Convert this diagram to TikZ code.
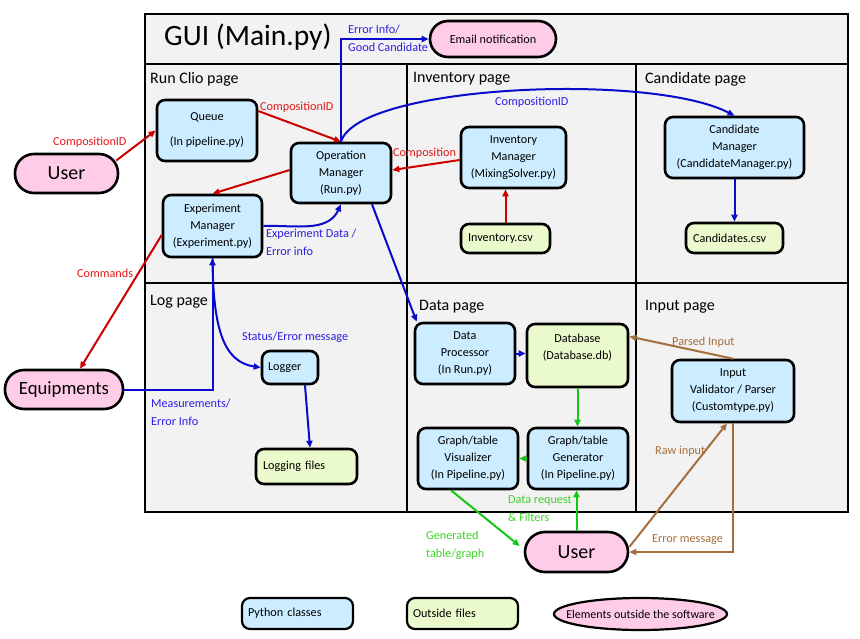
\documentclass[tikz,border=0pt]{standalone}
\usepackage{fontspec}
\setmainfont{Carlito}
\usetikzlibrary{calc,arrows.meta,shapes.geometric}

\definecolor{pyblue}{RGB}{204,236,255}
\definecolor{filegreen}{RGB}{235,250,205}
\definecolor{extpink}{RGB}{255,204,232}
\definecolor{panelgray}{RGB}{242,242,242}
\definecolor{lblue}{RGB}{10,10,205}
\definecolor{tblue}{RGB}{45,30,225}
\definecolor{lred}{RGB}{205,0,0}
\definecolor{tred}{RGB}{225,25,25}
\definecolor{lgreen}{RGB}{20,200,20}
\definecolor{tgreen}{RGB}{60,210,40}
\definecolor{lbrown}{RGB}{165,110,60}

\tikzset{
 base/.style={draw=black, line width=2.6pt, rounded corners=8pt, inner sep=2pt, align=center, font=\fontsize{12.2}{17}\selectfont},
 pyclass/.style={base, fill=pyblue},
 outfile/.style={base, fill=filegreen},
 extel/.style={base, fill=extpink, rounded corners=19pt},
 lab/.style={anchor=west, inner sep=0pt, font=\fontsize{12.2}{18}\selectfont, align=left},
 pagelab/.style={anchor=west, inner sep=0pt, font=\fontsize{16}{18}\selectfont},
 conn/.style={line width=2pt, -{Triangle[length=7pt,width=6pt]}},
}

\begin{document}
\begin{tikzpicture}[x=1pt,y=-1pt]
\useasboundingbox (0,0) rectangle (860,638);

% panels
\draw[line width=2.2pt, fill=panelgray] (145,14) rectangle (848,512);
\draw[line width=2pt] (145,64) -- (848,64);
\draw[line width=2pt] (145,283) -- (848,283);
\draw[line width=2pt] (407,64) -- (407,512);
\draw[line width=2pt] (636,64) -- (636,512);

\node[anchor=west, inner sep=0pt, font=\fontsize{29.5}{32}\selectfont] (title) at (164,37) {GUI (Main.py)};
\node[pagelab] (prun) at (150,79) {Run Clio page};
\node[pagelab] (pinv) at (413,79) {Inventory page};
\node[pagelab] (pcand) at (645,79) {Candidate page};
\node[pagelab] (plog) at (150,302) {Log page};
\node[pagelab] (pdata) at (419,307) {Data page};
\node[pagelab] (pinput) at (645,307) {Input page};

% nodes
\node[pyclass, minimum width=100pt, minimum height=61pt] (queue) at (207,130.5) {Queue\\[8pt](In pipeline.py)};
\node[pyclass, minimum width=100pt, minimum height=60pt] (opman) at (341,173) {Operation\\Manager\\(Run.py)};
\node[pyclass, minimum width=99pt, minimum height=62pt] (expman) at (212.5,226) {Experiment\\Manager\\(Experiment.py)};
\node[extel, minimum width=103pt, minimum height=39pt, font=\fontsize{20}{22}\selectfont] (userL) at (66.5,173.5) {User};
\node[extel, minimum width=126pt, minimum height=36pt, rounded corners=18pt] (email) at (493,39) {Email notification};
\node[pyclass, minimum width=105pt, minimum height=61pt] (invman) at (513.5,157.5) {Inventory\\Manager\\(MixingSolver.py)};
\node[outfile, minimum height=29pt, text width=75pt, inner xsep=7pt, align=left] (invcsv) at (505.5,238.5) {Inventory.csv};
\node[pyclass, minimum width=139pt, minimum height=61pt] (candman) at (734.5,147.5) {Candidate\\Manager\\(CandidateManager.py)};
\node[outfile, minimum height=30pt, text width=83pt, inner xsep=7pt, align=left] (candcsv) at (734.5,238) {Candidates.csv};
\node[pyclass, minimum height=33pt, text width=44pt, inner xsep=6pt, align=left] (logger) at (290,367.5) {Logger};
\node[outfile, minimum height=35pt, text width=87pt, inner xsep=7pt, align=left] (logfiles) at (306.5,466.5) {Logging files};
\node[extel, minimum width=118pt, minimum height=39pt, font=\fontsize{18.7}{20}\selectfont] (equip) at (64,389.5) {Equipments};
\node[pyclass, minimum width=100pt, minimum height=61pt] (dataproc) at (465,353.5) {Data\\Processor\\(In Run.py)};
\node[outfile, minimum width=101pt, minimum height=63pt] (database) at (577.5,355.5) {Database\\(Database.db)\\\mbox{}};
\node[pyclass, minimum width=100pt, minimum height=61pt] (vis) at (468,458.5) {Graph/table\\Visualizer\\(In Pipeline.py)};
\node[pyclass, minimum width=100pt, minimum height=61pt] (gen) at (578,458.5) {Graph/table\\Generator\\(In Pipeline.py)};
\node[pyclass, minimum width=122pt, minimum height=62pt] (input) at (733,391) {Input\\Validator / Parser\\(Customtype.py)};
\node[extel, minimum width=103pt, minimum height=40pt, rounded corners=20pt, font=\fontsize{20}{22}\selectfont] (userB) at (576.5,552) {User};

% legend
\node[pyclass, minimum height=31pt, text width=99pt, inner xsep=6pt, align=left, line width=2.2pt] (legpy) at (297.5,613.5) {Python classes};
\node[outfile, minimum height=31pt, text width=99pt, inner xsep=6pt, align=left, line width=2.2pt] (legfile) at (462.5,613.5) {Outside files};
\node[ellipse, draw=black, line width=2.2pt, fill=extpink, minimum width=173pt, minimum height=32pt, inner sep=0pt, font=\fontsize{12}{14}\selectfont] (legext) at (640.5,614) {\makebox[0pt]{Elements outside the software}};

% connectors
\draw[conn, lred] ($(userL.east)+(-3,-13)$) -- (queue.west);
\draw[conn, lred] ($(queue.east)+(0,-19.5)$) -- (opman.north);
\draw[conn, lred] ($(opman.west)+(0,-3)$) -- (expman.north);
\draw[conn, lblue] (expman.east) to[out=2, in=-115] (opman.south);
\draw[conn, lblue] (opman.north) |- (email.west);
\draw[conn, lblue] (opman.north) .. controls (358,85) and (650,72) .. (candman.north);
\draw[conn, lred] ($(invman.west)+(0,2.5)$) -- ($(opman.east)+(0,-3)$);
\draw[conn, lred] (invcsv.north) -- (invcsv.north |- invman.south);
\draw[conn, lblue] (candman.south) -- (candcsv.north);
\draw[conn, lblue] ($(opman.south)+(31,0)$) -- ($(dataproc.north west)+(3,0)$);
\draw[conn, lblue] (equip.east) -| (expman.south);
\draw[conn, lblue] (expman.south) .. controls (213,330) and (224,362) .. (logger.west);
\draw[conn, lred] ($(expman.west)+(0,9)$) -- ($(equip.north)+(16,0)$);
\draw[conn, lblue] ($(logger.south)+(15,0)$) -- ($(logfiles.north)+(3.5,0)$);
\draw[conn, lblue] (dataproc.east) -- (dataproc.east -| database.west);
\draw[conn, lgreen] (database.south) -- (database.south |- gen.north);
\draw[conn, lgreen] (gen.west) -- (vis.east);
\draw[conn, lgreen] ($(vis.south)+(-17,0)$) -- ($(userB.west)+(-4,-6)$);
\draw[conn, lgreen] (userB.north) -- (userB.north |- gen.south);
\draw[conn, lbrown] (input.north) -- ($(database.east)+(0,-19)$);
\draw[conn, lbrown] ($(userB.east)+(0,-5)$) -- ($(input.south)+(-6,0)$);
\draw[conn, lbrown] (input.south) |- (userB.east);

% labels
\node[lab, text=tred] (l1) at (53,142) {CompositionID};
\node[lab, text=tred] (l2) at (260,107) {CompositionID};
\node[lab, text=tred] (l3) at (393,153) {Composition};
\node[lab, text=tblue] (l4) at (495,102) {CompositionID};
\node[lab, text=tblue] (l5) at (348,38) {Error Info/\\Good Candidate};
\node[lab, text=tblue] (l6) at (266,242) {Experiment Data /\\Error info};
\node[lab, text=tred] (l7) at (77,273) {Commands};
\node[lab, text=tblue] (l8) at (242,337) {Status/Error message};
\node[lab, text=tblue] (l9) at (151,412.5) {Measurements/\\Error Info};
\node[lab, text=lbrown] (l10) at (672,342) {Parsed Input};
\node[lab, text=lbrown] (l11) at (655,451) {Raw input};
\node[lab, text=lbrown] (l12) at (652,540) {Error message};
\node[lab, text=tgreen] (l13) at (508,509) {Data request\\\& Filters};
\node[lab, text=tgreen] (l14) at (426,545) {Generated\\table/graph};
\end{tikzpicture}
\end{document}
